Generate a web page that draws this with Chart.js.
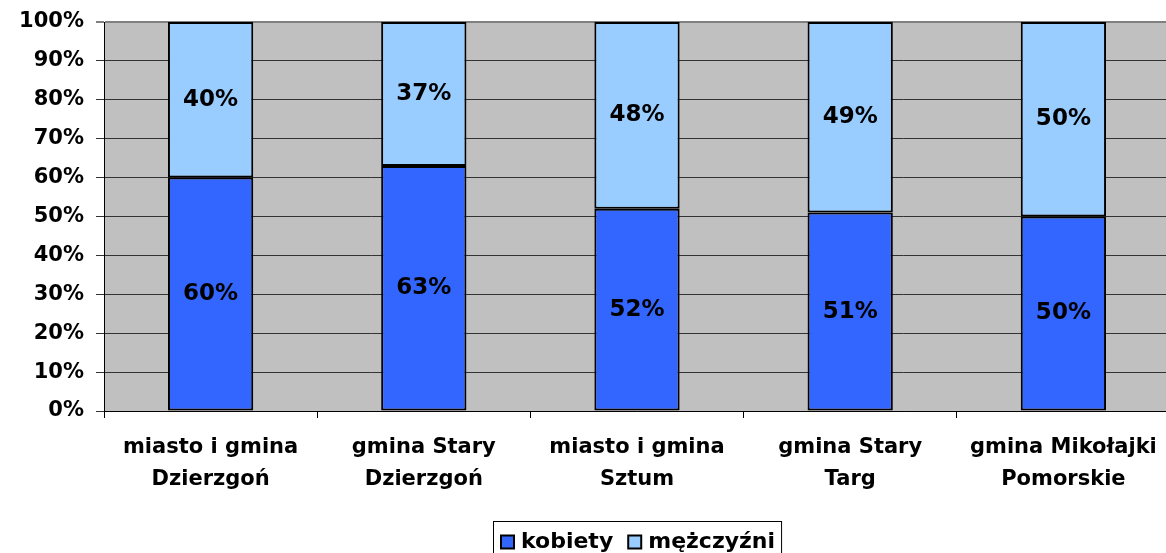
<!DOCTYPE html>
<html>
<head>
<meta charset="utf-8">
<script src="https://cdn.jsdelivr.net/npm/chart.js@4.4.1/dist/chart.umd.min.js"></script>
<style>
  html, body { margin: 0; padding: 0; background: #fff; overflow: hidden; }
  #wrap { width: 1170px; height: 553px; }
</style>
</head>
<body>
<div id="wrap"><canvas id="chart"></canvas></div>
<script>
// values
const categories = [
    ['miasto i gmina', 'Dzierzgoń'],
    ['gmina Stary', 'Dzierzgoń'],
    ['miasto i gmina', 'Sztum'],
    ['gmina Stary', 'Targ'],
    ['gmina Mikołajki', 'Pomorskie']
];
const kobiety = [60, 63, 52, 51, 50];
const mezczyzni = [40, 37, 48, 49, 50];
const seriesNames = ['kobiety', 'mężczyźni'];

const FONT = '"DejaVu Sans", Verdana, sans-serif';

// grey plot area
const plotBg = {
    id: 'plotBg',
    beforeDraw(chart) {
        const a = chart.chartArea, ctx = chart.ctx;
        ctx.save();
        ctx.fillStyle = '#c0c0c0';
        ctx.fillRect(a.left, a.top, a.right - a.left, a.bottom - a.top);
        ctx.restore();
    }
};

// percentages inside each bar segment
const segLabels = {
    id: 'segLabels',
    afterDatasetsDraw(chart) {
        const ctx = chart.ctx;
        ctx.save();
        ctx.font = 'bold 23px ' + FONT;
        ctx.fillStyle = '#000';
        ctx.textAlign = 'center';
        ctx.textBaseline = 'middle';
        chart.data.datasets.forEach((ds, i) => {
            chart.getDatasetMeta(i).data.forEach((bar, j) => {
                const p = bar.getProps(['x', 'y', 'base'], true);
                ctx.fillText(ds.data[j] + '%', p.x, (p.y + p.base) / 2);
            });
        });
        ctx.restore();
    }
};

// framed legend under the axis labels
const boxLegend = {
    id: 'boxLegend',
    afterDraw(chart) {
        const ctx = chart.ctx, a = chart.chartArea;
        ctx.save();
        ctx.font = 'bold 22px ' + FONT;
        const sq = 13, gap = 6, itemGap = 14;
        const items = chart.data.datasets.map(ds => ({
            text: ds.label, color: ds.backgroundColor, w: ctx.measureText(ds.label).width + 2
        }));
        let total = 0;
        items.forEach((it, i) => { total += sq + gap + it.w + (i ? itemGap : 0); });
        const padLeft = 8, padRight = 5;
        const boxW = total + padLeft + padRight;
        const left = Math.round((a.left + a.right) / 2 - boxW / 2);
        const top = 521, cy = 542;
        ctx.strokeStyle = '#000';
        ctx.lineWidth = 1;
        ctx.strokeRect(left + 0.5, top + 0.5, boxW, 40);
        let x = left + padLeft;
        ctx.textBaseline = 'middle';
        items.forEach((it, i) => {
            if (i) x += itemGap;
            ctx.fillStyle = it.color;
            ctx.fillRect(x, cy - sq / 2, sq, sq);
            ctx.lineWidth = 2;
            ctx.strokeRect(x, cy - sq / 2, sq, sq);
            x += sq + gap;
            ctx.fillStyle = '#000';
            ctx.fillText(it.text, x + 1, cy);
            x += it.w;
        });
        ctx.restore();
    }
};

new Chart(document.getElementById('chart'), {
    type: 'bar',
    data: {
        labels: categories,
        datasets: [{
            label: seriesNames[0],
            data: kobiety,
            backgroundColor: '#3366ff',
            borderColor: '#000',
            borderWidth: 2,
            borderSkipped: false
        }, {
            label: seriesNames[1],
            data: mezczyzni,
            backgroundColor: '#99ccff',
            borderColor: '#000',
            borderWidth: 2,
            borderSkipped: false
        }]
    },
    options: {
        responsive: true,
        maintainAspectRatio: false,
        animation: false,
        layout: { padding: { top: 22, right: 0, bottom: 0, left: 0 } },
        datasets: { bar: { categoryPercentage: 1, barPercentage: 0.4 } },
        plugins: {
            legend: { display: false },
            tooltip: { enabled: false }
        },
        scales: {
            x: {
                stacked: true,
                afterFit: s => { s.height = 142; s.paddingLeft = 0; s.paddingRight = 0; },
                grid: {
                    offset: true,
                    drawOnChartArea: false,
                    tickLength: 7,
                    color: '#000'
                },
                border: { color: '#000', width: 1 },
                ticks: {
                    color: '#000',
                    padding: 13,
                    maxRotation: 0,
                    font: { family: FONT, size: 21, weight: 'bold', lineHeight: 1.55 }
                }
            },
            y: {
                stacked: true,
                min: 0,
                max: 100,
                afterFit: s => { s.width = 104; s.paddingTop = 0; s.paddingBottom = 0; },
                grid: {
                    tickLength: 8,
                    color: ctx => ctx.tick && ctx.tick.value === 100 ? '#808080' : '#333',
                    lineWidth: ctx => ctx.tick && ctx.tick.value === 100 ? 2 : 1
                },
                border: { color: '#000', width: 1 },
                ticks: {
                    stepSize: 10,
                    color: '#000',
                    padding: 12,
                    callback: v => v + '%',
                    font: { family: FONT, size: 21, weight: 'bold' }
                }
            }
        }
    },
    plugins: [plotBg, segLabels, boxLegend]
});
</script>
</body>
</html>
